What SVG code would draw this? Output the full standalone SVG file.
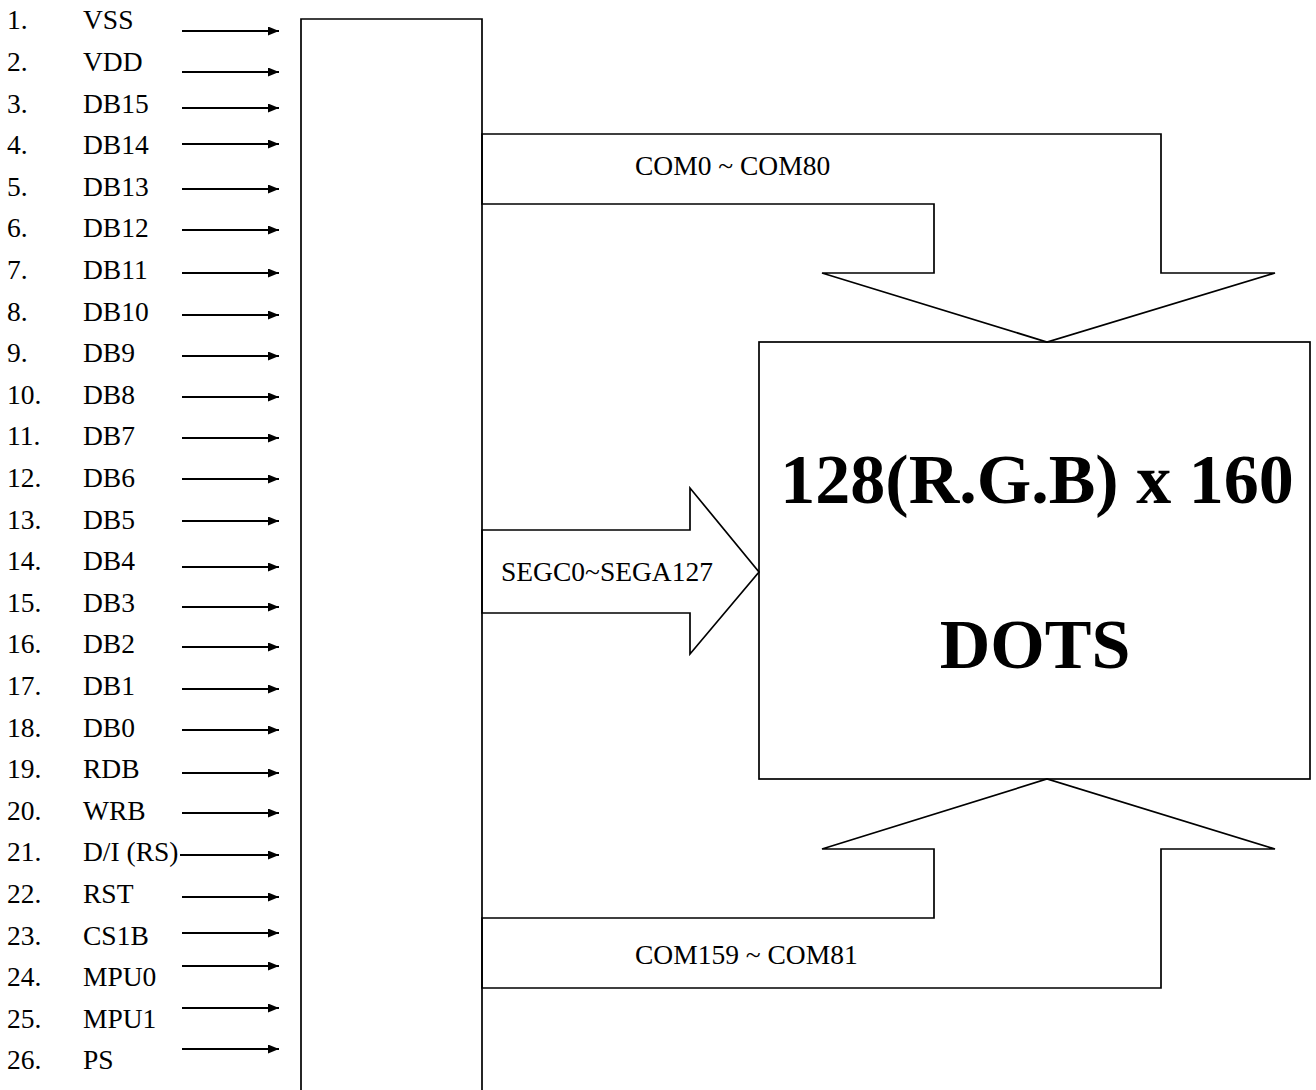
<svg xmlns="http://www.w3.org/2000/svg" width="1316" height="1090" viewBox="0 0 1316 1090">
<style>
  .t { font-family: "Liberation Serif", "Times New Roman", serif; font-size: 27.5px; fill: #000; }
  .big { font-family: "Liberation Serif", "Times New Roman", serif; font-size: 70px; font-weight: bold; fill: #000; }
  .shape { fill: none; stroke: #000; stroke-width: 1.7; stroke-linejoin: miter; }
  .pin { stroke: #000; stroke-width: 2; marker-end: url(#ah); }
</style>
<defs>
  <marker id="ah" markerWidth="11" markerHeight="9" refX="11" refY="4.5" orient="auto" markerUnits="userSpaceOnUse">
    <path d="M0,0 L11,4.5 L0,9 Z" fill="#000"/>
  </marker>
</defs>
<rect width="1316" height="1090" fill="#fff"/>

<g id="pins">
  <text class="t" x="7" y="29.3">1.</text><text class="t" x="83" y="29.3">VSS</text>
  <text class="t" x="7" y="70.9">2.</text><text class="t" x="83" y="70.9">VDD</text>
  <text class="t" x="7" y="112.5">3.</text><text class="t" x="83" y="112.5">DB15</text>
  <text class="t" x="7" y="154.1">4.</text><text class="t" x="83" y="154.1">DB14</text>
  <text class="t" x="7" y="195.7">5.</text><text class="t" x="83" y="195.7">DB13</text>
  <text class="t" x="7" y="237.3">6.</text><text class="t" x="83" y="237.3">DB12</text>
  <text class="t" x="7" y="278.9">7.</text><text class="t" x="83" y="278.9">DB11</text>
  <text class="t" x="7" y="320.5">8.</text><text class="t" x="83" y="320.5">DB10</text>
  <text class="t" x="7" y="362.1">9.</text><text class="t" x="83" y="362.1">DB9</text>
  <text class="t" x="7" y="403.7">10.</text><text class="t" x="83" y="403.7">DB8</text>
  <text class="t" x="7" y="445.3">11.</text><text class="t" x="83" y="445.3">DB7</text>
  <text class="t" x="7" y="486.9">12.</text><text class="t" x="83" y="486.9">DB6</text>
  <text class="t" x="7" y="528.5">13.</text><text class="t" x="83" y="528.5">DB5</text>
  <text class="t" x="7" y="570.1">14.</text><text class="t" x="83" y="570.1">DB4</text>
  <text class="t" x="7" y="611.7">15.</text><text class="t" x="83" y="611.7">DB3</text>
  <text class="t" x="7" y="653.3">16.</text><text class="t" x="83" y="653.3">DB2</text>
  <text class="t" x="7" y="694.9">17.</text><text class="t" x="83" y="694.9">DB1</text>
  <text class="t" x="7" y="736.5">18.</text><text class="t" x="83" y="736.5">DB0</text>
  <text class="t" x="7" y="778.1">19.</text><text class="t" x="83" y="778.1">RDB</text>
  <text class="t" x="7" y="819.7">20.</text><text class="t" x="83" y="819.7">WRB</text>
  <text class="t" x="7" y="861.3">21.</text><text class="t" x="83" y="861.3">D/I (RS)</text>
  <text class="t" x="7" y="902.9">22.</text><text class="t" x="83" y="902.9">RST</text>
  <text class="t" x="7" y="944.5">23.</text><text class="t" x="83" y="944.5">CS1B</text>
  <text class="t" x="7" y="986.1">24.</text><text class="t" x="83" y="986.1">MPU0</text>
  <text class="t" x="7" y="1027.7">25.</text><text class="t" x="83" y="1027.7">MPU1</text>
  <text class="t" x="7" y="1069.3">26.</text><text class="t" x="83" y="1069.3">PS</text>
</g>

<g id="connectors">
  <line class="pin" x1="182" y1="31" x2="279" y2="31"/>
  <line class="pin" x1="182" y1="72" x2="279" y2="72"/>
  <line class="pin" x1="182" y1="108" x2="279" y2="108"/>
  <line class="pin" x1="182" y1="144" x2="279" y2="144"/>
  <line class="pin" x1="182" y1="189" x2="279" y2="189"/>
  <line class="pin" x1="182" y1="230" x2="279" y2="230"/>
  <line class="pin" x1="182" y1="273" x2="279" y2="273"/>
  <line class="pin" x1="182" y1="315" x2="279" y2="315"/>
  <line class="pin" x1="182" y1="356" x2="279" y2="356"/>
  <line class="pin" x1="182" y1="397" x2="279" y2="397"/>
  <line class="pin" x1="182" y1="438" x2="279" y2="438"/>
  <line class="pin" x1="182" y1="479" x2="279" y2="479"/>
  <line class="pin" x1="182" y1="521" x2="279" y2="521"/>
  <line class="pin" x1="182" y1="567" x2="279" y2="567"/>
  <line class="pin" x1="182" y1="607" x2="279" y2="607"/>
  <line class="pin" x1="182" y1="647" x2="279" y2="647"/>
  <line class="pin" x1="182" y1="689" x2="279" y2="689"/>
  <line class="pin" x1="182" y1="730" x2="279" y2="730"/>
  <line class="pin" x1="182" y1="773" x2="279" y2="773"/>
  <line class="pin" x1="182" y1="813" x2="279" y2="813"/>
  <line class="pin" x1="180" y1="855" x2="279" y2="855"/>
  <line class="pin" x1="182" y1="897" x2="279" y2="897"/>
  <line class="pin" x1="182" y1="933" x2="279" y2="933"/>
  <line class="pin" x1="182" y1="966" x2="279" y2="966"/>
  <line class="pin" x1="182" y1="1008" x2="279" y2="1008"/>
  <line class="pin" x1="182" y1="1049" x2="279" y2="1049"/>
</g>

<g id="controller">
  <path class="shape" d="M301,1092 L301,19 L482,19 L482,1092"/>
</g>

<g id="com-top">
  <polygon class="shape" points="482,134 1161,134 1161,273 1275,273 1047,342 822,273 934,273 934,204 482,204"/>
  <text class="t" x="635" y="175">COM0 ~ COM80</text>
</g>

<g id="seg">
  <polygon class="shape" points="482,530 690,530 690,488 759,572 690,654 690,613 482,613"/>
  <text class="t" x="501" y="581">SEGC0~SEGA127</text>
</g>

<g id="com-bottom">
  <polygon class="shape" points="482,988 1161,988 1161,849 1275,849 1047,779 822,849 934,849 934,918 482,918"/>
  <text class="t" x="635" y="964">COM159 ~ COM81</text>
</g>

<g id="display">
  <rect class="shape" x="759" y="342" width="551" height="437"/>
  <text class="big" x="1037" y="503" text-anchor="middle">128(R.G.B) x 160</text>
  <text class="big" x="1035" y="668" text-anchor="middle">DOTS</text>
</g>
</svg>
